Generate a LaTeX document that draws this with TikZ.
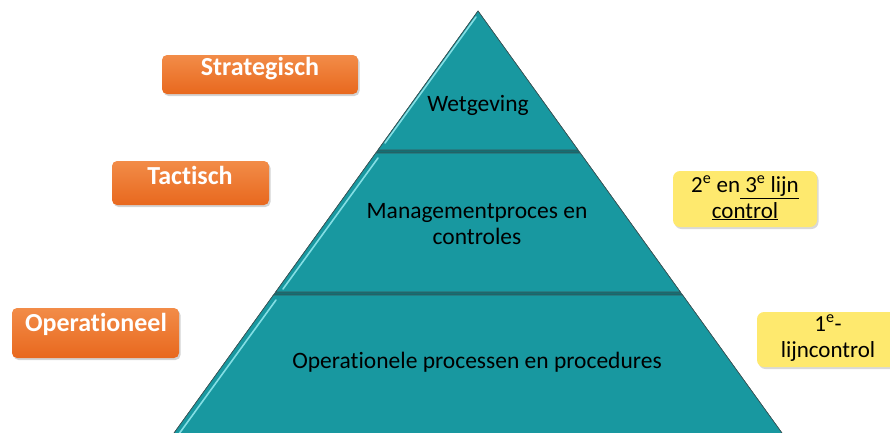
\documentclass[tikz,border=0pt]{standalone}
\usepackage{fontspec}
\setmainfont[Ligatures=NoCommon]{Carlito}
\usetikzlibrary{shadows}
\definecolor{teal1}{RGB}{24,152,160}
\definecolor{teal2}{RGB}{20,110,115}
\definecolor{tealedge}{RGB}{60,80,82}
\definecolor{tealhi}{RGB}{150,235,240}
\definecolor{orTop}{RGB}{242,140,72}
\definecolor{orBot}{RGB}{232,104,30}
\definecolor{yel}{RGB}{254,233,110}
\tikzset{
  layer/.style={fill=teal1, draw=tealedge, line width=0.6pt},
  hilite/.style={draw=tealhi, line width=1.6pt, line cap=round, opacity=0.85},
  lbl/.style={font=\fontsize{23.5}{26}\selectfont, text=black, align=center, inner sep=0pt},
  orbox/.style={rounded corners=5pt, top color=orTop, bottom color=orBot, draw=none,
    drop shadow={opacity=0.35, shadow xshift=1.5pt, shadow yshift=-2pt}},
  ortext/.style={font=\fontsize{26}{28}\selectfont\bfseries, text=white, inner sep=0pt},
  ybox/.style={rounded corners=7pt, fill=yel, draw=none,
    drop shadow={opacity=0.3, shadow xshift=1.5pt, shadow yshift=-2pt}},
  ytext/.style={font=\fontsize{23}{25.5}\selectfont, text=black, align=center, inner sep=0pt}
}
\begin{document}
\begin{tikzpicture}[x=1pt,y=-1pt]
\useasboundingbox (0,0) rectangle (890,432);
\begin{scope}
\clip (0,0) rectangle (890,432);
% pyramid body (dark, shows in the gaps)
\path[fill=teal2, draw=tealedge, line width=0.6pt] (478,11) -- (787,440) -- (169,440) -- cycle;
% pyramid layers
\path[layer] (478,11) -- (578,150) -- (378,150) -- cycle;
\path[layer] (375.8,153) -- (580.2,153) -- (680.3,292) -- (275.7,292) -- cycle;
\path[layer] (273.5,295) -- (682.5,295) -- (787,440) -- (169,440) -- cycle;
% highlights on left edges
\draw[hilite] (476,17) -- (385,143);
\draw[hilite] (378,158) -- (283,289);
\draw[hilite] (276,300) -- (176,438);
% labels in pyramid
\node[lbl] (wet) at (478,105) {Wetgeving};
\node[lbl] (man) at (477,224) {Managementproces en\\controles};
\node[lbl] (ope) at (477,362) {Operationele processen en procedures};
% orange boxes
\path[orbox] (162,55) rectangle (358,94);
\node[ortext] (str) at (260,69) {Strategisch};
\path[orbox] (112,161) rectangle (269,205);
\node[ortext] (tac) at (190,175) {Tactisch};
\path[orbox] (12,308) rectangle (179,358);
\node[ortext] (opr) at (96,324) {Operationeel};
% yellow boxes
\path[ybox] (673,171) rectangle (817,227);
\node[ytext] (y23) at (745,198) {2\textsuperscript{e} en\underline{\ 3\textsuperscript{e} lijn}\\\underline{control}};
\path[ybox] (757,312) rectangle (900,367);
\node[ytext] (y1) at (828,338) {1\textsuperscript{e}-\\lijncontrol};
\end{scope}
\end{tikzpicture}
\end{document}
